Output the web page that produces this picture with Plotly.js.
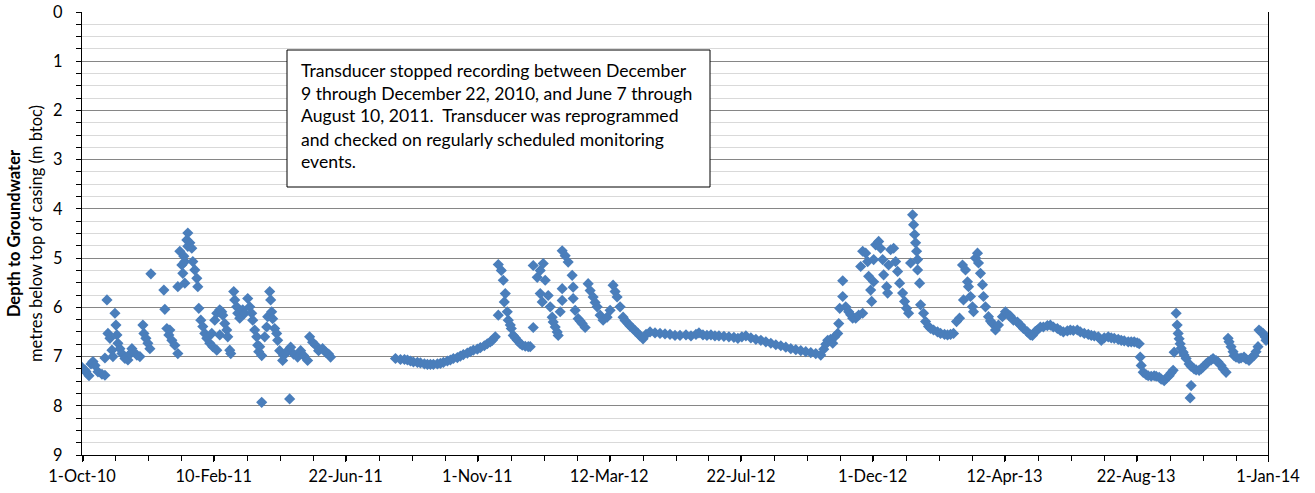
<!DOCTYPE html>
<html>
<head>
<meta charset="utf-8">
<script src="https://cdn.plot.ly/plotly-3.0.1.min.js"></script>
<style>
html,body{margin:0;padding:0;background:#fff;}
#chart{width:1315px;height:493px;}
</style>
</head>
<body>
<div id="chart"></div>
<script>
// Record start date; each reading is given as days since this date
const startDate = '2010-10-01';

// Days since 1-Oct-2010 for each logged reading
const daysSinceStart = [
  0,3,4,7,9,11,13,16,20,23,23,25,26,28,30,31,33,34,35,36,38,40,43,46,48,50,51,55,58,61,62,64,66,68,69,
  82,83,85,87,88,90,93,96,96,98,100,101,102,103,103,105,106,106,108,110,111,113,115,116,117,119,121,123,125,128,
  130,131,133,135,135,138,138,140,141,143,145,146,148,149,152,153,155,156,158,161,163,166,168,170,171,173,175,176,177,178,
  180,180,183,185,186,188,189,190,191,193,195,196,198,201,202,206,208,209,212,216,219,222,226,228,231,234,237,241,244,247,249,
  314,319,323,326,329,332,336,339,343,346,349,352,356,359,362,366,369,372,376,379,382,386,389,392,396,399,403,406,409,411,414,
  417,417,420,422,423,424,426,427,429,430,432,434,436,439,441,444,447,449,452,452,456,459,459,461,462,464,467,469,471,472,474,476,477,479,
  481,481,481,484,487,491,492,492,494,497,499,501,504,507,509,512,514,516,519,522,526,529,532,534,536,539,542,544,547,549,552,554,557,559,
  562,565,569,574,579,584,589,594,599,605,610,615,618,622,626,630,634,638,643,648,653,657,661,665,670,675,680,685,690,695,700,705,710,715,
  720,725,730,735,740,743,745,747,750,752,754,757,758,759,762,762,765,768,770,772,775,778,780,782,782,785,787,788,790,791,793,793,795,798,
  800,802,803,806,807,808,810,813,815,817,819,822,824,826,828,830,832,833,834,835,836,837,837,839,840,843,845,848,850,853,857,860,864,867,
  870,873,876,879,882,883,885,887,888,890,892,893,895,897,898,900,902,903,905,908,910,912,915,918,922,925,928,930,933,937,940,943,947,950,
  952,955,957,960,963,967,970,973,977,980,983,987,990,993,997,1000,1004,1008,1011,1014,1018,1021,1024,1028,1031,1034,1038,1041,1044,1048,
  1051,1054,1057,1059,1060,1061,1063,1066,1068,1071,1074,1076,1079,1081,1084,1086,1089,1091,1093,1094,1096,1097,1098,1099,1100,1101,1103,
  1104,1106,1109,1110,1111,1111,1114,1116,1119,1121,1123,1126,1128,1131,1133,1136,1138,1141,1143,1146,1148,1149,1151,1153,1154,1156,1159,
  1161,1164,1166,1169,1171,1174,1176,1178,1179,1181,1183,1185,1186
];

// Depth to groundwater, metres below top of casing (m btoc)
const depthMbtoc = [
  7.22,7.28,7.31,7.39,7.15,7.10,7.18,7.31,7.36,7.38,7.03,5.85,6.53,6.63,6.87,7.00,6.12,6.36,6.56,6.73,6.84,6.94,7.04,7.07,6.95,6.84,6.90,6.97,7.00,6.36,6.53,6.63,6.73,6.84,5.32,
  5.65,6.04,6.43,6.56,6.46,6.67,6.77,6.94,5.58,4.86,5.14,5.31,4.96,5.51,5.07,4.63,4.49,4.76,4.69,4.80,5.07,5.24,5.41,5.58,6.02,6.26,6.39,6.53,6.63,6.73,
  6.53,6.80,6.26,6.12,6.87,6.05,6.56,6.09,6.16,6.33,6.46,6.60,6.87,6.94,5.68,5.85,5.99,6.12,6.22,6.05,6.12,5.82,5.99,6.12,6.26,6.46,6.60,6.77,6.90,6.80,
  6.98,7.93,6.60,6.40,6.19,5.68,5.85,6.09,6.23,6.43,6.53,6.67,6.88,7.08,6.98,6.88,7.86,6.81,6.95,7.01,6.88,6.98,7.08,6.60,6.71,6.77,6.88,6.84,6.91,6.95,7.01,
  7.04,7.06,7.06,7.07,7.09,7.11,7.12,7.13,7.15,7.16,7.16,7.16,7.15,7.14,7.12,7.09,7.07,7.04,7.02,6.99,6.96,6.93,6.90,6.87,6.85,6.82,6.78,6.74,6.70,6.67,6.60,
  6.16,5.13,5.25,5.45,5.89,5.72,6.09,6.26,6.36,6.43,6.57,6.62,6.67,6.74,6.77,6.79,6.80,6.80,6.41,5.15,5.39,5.25,5.72,5.89,5.11,5.45,5.76,5.99,6.20,6.30,6.40,6.50,6.57,6.09,
  4.85,5.62,5.86,4.95,5.08,5.35,5.59,5.82,6.06,6.23,6.28,6.33,6.41,5.52,5.66,5.79,5.90,5.99,6.16,6.26,6.20,6.06,5.55,5.68,5.79,5.99,6.20,6.27,6.33,6.38,6.43,6.48,6.53,6.58,
  6.64,6.55,6.50,6.52,6.53,6.54,6.55,6.57,6.57,6.56,6.58,6.55,6.52,6.56,6.57,6.56,6.58,6.58,6.59,6.60,6.61,6.63,6.60,6.58,6.62,6.65,6.67,6.70,6.73,6.76,6.78,6.81,6.84,6.86,
  6.88,6.90,6.92,6.94,6.97,6.85,6.75,6.67,6.65,6.73,6.60,6.53,6.33,6.02,5.78,5.46,5.99,6.09,6.15,6.22,6.22,6.16,5.17,4.86,6.12,4.90,5.07,5.37,5.65,5.88,5.48,5.03,4.73,4.66,
  4.80,5.03,5.34,5.58,5.71,5.14,4.83,4.80,5.07,5.27,5.51,5.71,5.88,6.02,6.12,5.10,4.12,4.32,4.52,4.69,4.86,5.03,5.24,5.51,5.95,6.12,6.29,6.39,6.43,6.46,6.50,6.53,6.55,6.56,
  6.55,6.53,6.29,6.22,5.14,5.85,5.24,5.48,5.58,5.78,5.99,6.09,5.00,4.90,5.10,5.31,5.54,5.78,5.99,6.19,6.28,6.33,6.46,6.36,6.19,6.09,6.16,6.18,6.26,6.30,6.36,6.43,6.50,6.56,
  6.57,6.49,6.46,6.40,6.40,6.37,6.36,6.40,6.43,6.47,6.50,6.48,6.46,6.47,6.46,6.50,6.53,6.55,6.57,6.58,6.60,6.67,6.62,6.60,6.62,6.63,6.65,6.67,6.68,6.70,
  6.70,6.70,6.72,6.74,7.01,7.18,7.32,7.37,7.39,7.40,7.39,7.40,7.42,7.46,7.49,7.44,7.39,7.33,7.28,6.91,6.12,6.36,6.53,6.64,6.74,6.83,6.91,
  6.97,7.04,7.15,7.84,7.59,7.20,7.25,7.27,7.28,7.25,7.21,7.15,7.11,7.07,7.04,7.08,7.11,7.18,7.25,7.32,6.63,6.70,6.80,6.90,6.98,7.01,7.04,
  7.03,7.01,7.05,7.08,7.03,6.98,6.90,6.80,6.46,6.50,6.53,6.60,6.67
];

// Axis settings (tick labels)
const xRange = ['2010-10-01', '2014-01-01'];
const xTickStepDays = 132;
const yRange = [9, 0];
const yTitleMain = 'Depth to Groundwater';
const yTitleSub = 'metres below top of casing (m btoc)';

const noteLines = [
  'Transducer stopped recording between December',
  '9 through December 22, 2010, and June 7 through',
  'August 10, 2011.  Transducer was reprogrammed',
  'and checked on regularly scheduled monitoring',
  'events.'
];

const DAY = 86400000;
const base = Date.parse(startDate + 'T00:00:00Z');
const xDates = daysSinceStart.map(d => new Date(base + d * DAY).toISOString().slice(0, 10));

const FONT = 'Lato, "Open Sans", sans-serif';

const trace = {
  type: 'scatter',
  mode: 'markers',
  x: xDates,
  y: depthMbtoc,
  marker: {symbol: 'diamond', size: 8.6, color: '#4A7EBB', line: {width: 0}},
  hoverinfo: 'x+y',
  cliponaxis: true
};

// Plot-area geometry in pixels
const W = 1315, H = 493, ML = 82, MR = 47, MT = 12, MB = 38;
const PW = W - ML - MR, PH = H - MT - MB;
const px2x = p => (p - ML) / PW;
const py2y = p => (H - MB - p) / PH;

const annotations = noteLines.map((t, i) => ({
  xref: 'paper', yref: 'paper',
  x: px2x(299), y: py2y(70 + i * 23),
  xanchor: 'left', yanchor: 'middle',
  text: t, showarrow: false, align: 'left',
  font: {family: FONT, size: 17.6, color: '#000'}
}));

const layout = {
  width: W, height: H,
  margin: {l: ML, r: MR, t: MT, b: MB, pad: 0},
  paper_bgcolor: '#fff', plot_bgcolor: '#fff',
  showlegend: false,
  font: {family: FONT, size: 16, color: '#000'},
  xaxis: {
    type: 'date',
    range: xRange,
    tick0: xRange[0],
    dtick: xTickStepDays * DAY,
    tickformat: '%-d-%b-%y',
    ticks: 'outside', ticklen: 6, tickcolor: '#000', tickwidth: 1,
    showgrid: false, zeroline: false,
    showline: true, linecolor: '#000', linewidth: 1.3,
    minor: {dtick: xTickStepDays / 4 * DAY, ticks: 'outside', ticklen: 5, tickcolor: '#000', showgrid: false},
    tickfont: {family: FONT, size: 16.4, color: '#000'},
    automargin: false
  },
  yaxis: {
    range: yRange,
    tick0: 0, dtick: 1,
    ticks: 'outside', ticklen: 5, tickcolor: '#000', tickwidth: 1,
    ticklabelstandoff: 10,
    showgrid: true, gridcolor: '#868686', gridwidth: 1,
    zeroline: false,
    showline: true, linecolor: '#000', linewidth: 1.3, mirror: true,
    minor: {dtick: 0.25, ticks: 'outside', ticklen: 5, tickcolor: '#000', showgrid: true, gridcolor: '#D9D9D9', gridwidth: 1},
    tickfont: {family: FONT, size: 16.4, color: '#000'},
    title: {
      text: '<b>' + yTitleMain + '</b><br>' + yTitleSub,
      font: {family: FONT, size: 16.5, color: '#000'},
      standoff: 6
    },
    automargin: false
  },
  shapes: [{
    type: 'rect', xref: 'paper', yref: 'paper',
    x0: px2x(287), x1: px2x(710), y0: py2y(187), y1: py2y(50),
    fillcolor: '#fff', line: {color: '#000', width: 1}, layer: 'above'
  }],
  annotations: annotations
};

Plotly.newPlot('chart', [trace], layout, {displayModeBar: false, staticPlot: true});
</script>
</body>
</html>
